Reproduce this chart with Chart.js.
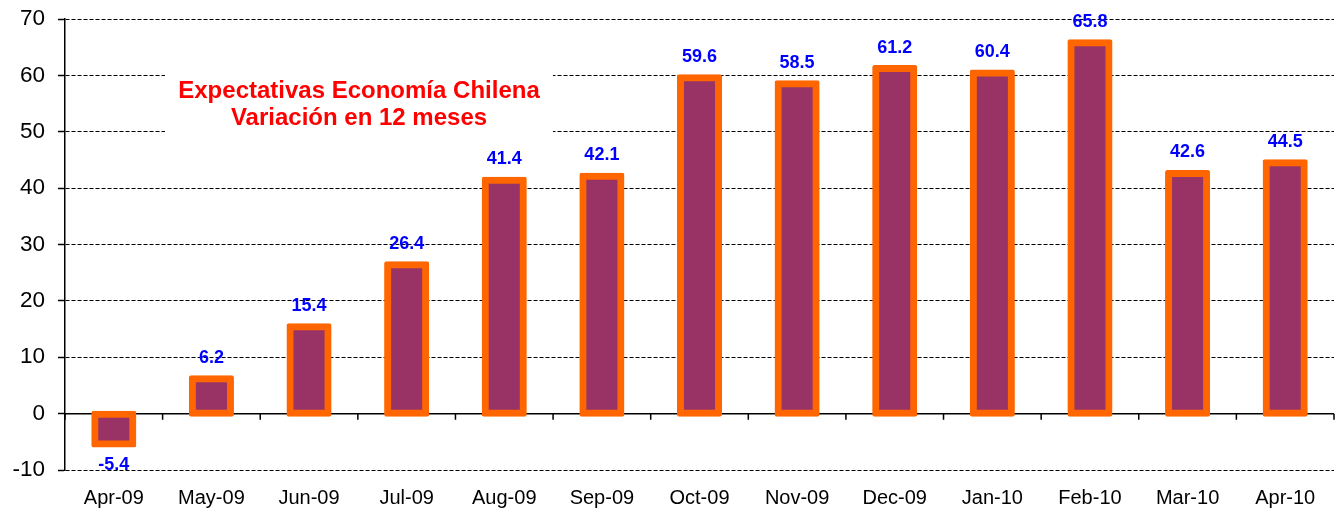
<!DOCTYPE html>
<html><head><meta charset="utf-8">
<script src="https://cdn.jsdelivr.net/npm/chart.js@4.4.1/dist/chart.umd.min.js"></script>
<style>html,body{margin:0;padding:0;background:#fff}#wrap{width:1340px;height:515px}</style>
</head><body><div id="wrap"><canvas id="c" width="1340" height="515"></canvas></div>
<script>
const categories = ['Apr-09','May-09','Jun-09','Jul-09','Aug-09','Sep-09','Oct-09','Nov-09','Dec-09','Jan-10','Feb-10','Mar-10','Apr-10'];
const values = [-5.4, 6.2, 15.4, 26.4, 41.4, 42.1, 59.6, 58.5, 61.2, 60.4, 65.8, 42.6, 44.5];
const yMin = -10, yMax = 70, yStep = 10;
const titleLines = ['Expectativas Economía Chilena', 'Variación en 12 meses'];

const FONT = '"Liberation Sans", Arial, sans-serif';

const decorPlugin = {
  id: 'decor',
  beforeDatasetsDraw(chart) {
    const ctx = chart.ctx, ca = chart.chartArea;
    const x = chart.scales.x, y = chart.scales.y;
    ctx.save();
    ctx.fillStyle = '#ffffff';
    ctx.fillRect(165, 70, 388, 66);
    const y0 = y.getPixelForValue(0);
    ctx.strokeStyle = '#000';
    ctx.lineWidth = 1.5;
    ctx.beginPath();
    ctx.moveTo(ca.left, y0);
    ctx.lineTo(ca.right, y0);
    ctx.stroke();
    const half = (x.getPixelForValue(1) - x.getPixelForValue(0)) / 2;
    ctx.beginPath();
    for (let i = 0; i <= categories.length; i++) {
      const px = x.getPixelForValue(0) - half + i * 2 * half;
      ctx.moveTo(px, y0);
      ctx.lineTo(px, y0 + 6);
    }
    ctx.stroke();
    ctx.restore();
  },
  afterDatasetsDraw(chart) {
    const ctx = chart.ctx;
    const meta = chart.getDatasetMeta(0);
    ctx.save();
    ctx.font = 'bold 18px ' + FONT;
    ctx.fillStyle = '#0000FF';
    ctx.textAlign = 'center';
    ctx.textBaseline = 'middle';
    meta.data.forEach((el, i) => {
      const v = values[i];
      const ty = v >= 0 ? el.y - 21 : el.y + 21;
      ctx.fillText(v.toFixed(1), el.x, ty);
    });
    ctx.font = 'bold 24px ' + FONT;
    ctx.fillStyle = '#FF0000';
    ctx.fillText(titleLines[0], 359, 91);
    ctx.fillText(titleLines[1], 359, 118);
    ctx.restore();
  }
};

new Chart(document.getElementById('c'), {
  type: 'bar',
  data: {
    labels: categories,
    datasets: [{
      data: values,
      backgroundColor: '#993366',
      borderColor: '#FF6600',
      borderWidth: 7,
      borderSkipped: false,
      borderRadius: 2,
      inflateAmount: 3.5,
      barPercentage: 0.39,
      categoryPercentage: 1.0
    }]
  },
  options: {
    responsive: false,
    animation: false,
    layout: { padding: { top: 19, right: 6, bottom: 0, left: 0 } },
    plugins: { legend: { display: false }, tooltip: { enabled: false }, title: { display: false } },
    scales: {
      x: {
        offset: true,
        grid: { display: false },
        border: { display: false },
        ticks: { color: '#000', font: { family: FONT, size: 20 }, padding: 8, maxRotation: 0 },
        afterFit(scale) { scale.height = 45; scale.paddingLeft = 0; scale.paddingRight = 0; }
      },
      y: {
        min: yMin, max: yMax,
        ticks: { stepSize: yStep, color: '#000', font: { family: FONT, size: 22.5 }, padding: 13 },
        grid: { color: '#000', lineWidth: 1, tickLength: 7, tickColor: '#000', tickWidth: 1.5, tickBorderDash: [] },
        border: { display: true, color: '#000', width: 1.5, dash: [4, 2] },
        afterFit(scale) { scale.width = 65; scale.paddingTop = 0; scale.paddingBottom = 0; }
      }
    }
  },
  plugins: [decorPlugin]
});
</script>
</body></html>
